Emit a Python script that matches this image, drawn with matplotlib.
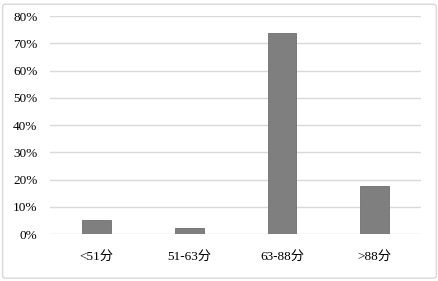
import matplotlib
matplotlib.use("Agg")
import matplotlib.pyplot as plt
from matplotlib.patches import FancyBboxPatch
from matplotlib.ticker import PercentFormatter

categories = ["<51分", "51-63分", "63-88分", ">88分"]
values = [5.3, 2.2, 73.9, 17.8]
yticks = [0, 10, 20, 30, 40, 50, 60, 70, 80]

fam = ["Liberation Serif", "Noto Sans CJK SC"]
plt.rcParams['font.family'] = fam

fig = plt.figure(figsize=(4.39, 2.81), dpi=100)
border = FancyBboxPatch((0.006, 0.01), 0.988, 0.975, boxstyle="round,pad=0,rounding_size=0.008",
                        transform=fig.transFigure, facecolor="white", edgecolor="#d9d9d9",
                        linewidth=1, zorder=-10)
fig.patches.append(border)

ax = fig.add_axes([0.114, 0.167, 0.845, 0.776])
ax.set_facecolor("none")
ax.set_zorder(1)
x = range(len(categories))
ax.bar(x, values, width=0.31, color="#7f7f7f", edgecolor="#6f6f6f", linewidth=0.6, zorder=3)
ax.set_xlim(-0.5, len(categories) - 0.5)
ax.set_ylim(0, 80)
ax.set_yticks(yticks)
ax.yaxis.set_major_formatter(PercentFormatter(decimals=0))
ax.set_xticks(list(x))
ax.set_xticklabels(categories)
ax.grid(axis="y", color="#d9d9d9", linewidth=1, zorder=0)
for s in ax.spines.values():
    s.set_visible(False)
ax.tick_params(axis="both", length=0, labelsize=9.5, colors="#000000")
ax.tick_params(axis="y", pad=9)
ax.tick_params(axis="x", pad=12)

fig.savefig("out.png", dpi=100)
